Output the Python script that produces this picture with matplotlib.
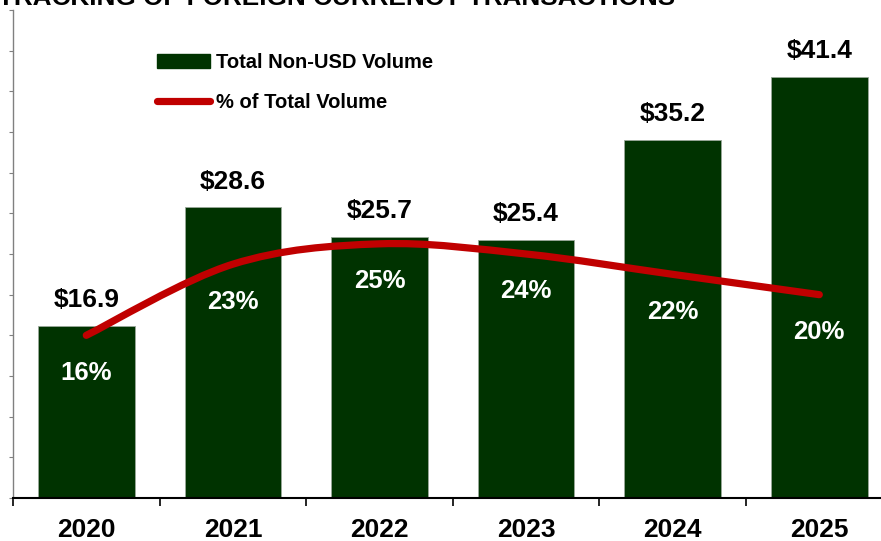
import numpy as np
import matplotlib
matplotlib.use("Agg")
import matplotlib.pyplot as plt
from matplotlib.path import Path
from matplotlib.patches import PathPatch, Patch
from matplotlib.lines import Line2D

years = ["2020", "2021", "2022", "2023", "2024", "2025"]
volume = [16.9, 28.6, 25.7, 25.4, 35.2, 41.4]
pct = [16, 23, 25, 24, 22, 20]
title = "TRACKING OF FOREIGN CURRENCY TRANSACTIONS"

GREEN = "#003300"
RED = "#C00000"
plt.rcParams['font.family'] = ['Liberation Sans', 'DejaVu Sans']

fig = plt.figure(figsize=(8.81, 5.41), dpi=100)
ax = fig.add_axes([13/881, 43/541, 879.6/881, 488/541])

x = np.arange(len(years))
ax.bar(x, volume, width=0.66, color=GREEN, edgecolor="#9aa89a", linewidth=0.6, zorder=2)
ax.set_xlim(-0.5, 5.5)
ax.set_ylim(0, 48)

# smoothed line (Bezier through data points)
pts = np.column_stack([x, pct]).astype(float)
verts = [tuple(pts[0])]
codes = [Path.MOVETO]
n = len(pts)
for i in range(n - 1):
    p0 = pts[i - 1] if i > 0 else pts[i]
    p1 = pts[i]
    p2 = pts[i + 1]
    p3 = pts[i + 2] if i + 2 < n else pts[i + 1]
    c1 = p1 + (p2 - p0) / 6.0
    c2 = p2 - (p3 - p1) / 6.0
    verts += [tuple(c1), tuple(c2), tuple(p2)]
    codes += [Path.CURVE4] * 3
path = Path(verts, codes)
ax.add_patch(PathPatch(path, facecolor="none", edgecolor=RED, lw=5.2,
                       capstyle="round", joinstyle="round", zorder=3))

for xi, v in zip(x, volume):
    ax.annotate(f"${v:.1f}", (xi, v), xytext=(0, 18.5), textcoords="offset points",
                ha="center", va="center", fontsize=19, fontweight="bold", color="black")
for xi, p in zip(x, pct):
    ax.annotate(f"{p}%", (xi, p), xytext=(0, -27), textcoords="offset points",
                ha="center", va="center", fontsize=18.5, fontweight="bold", color="white", zorder=4)

# axes styling
ax.spines["top"].set_visible(False)
ax.spines["right"].set_visible(False)
ax.spines["left"].set_color("#808080")
ax.spines["left"].set_linewidth(1.0)
ax.spines["bottom"].set_color("black")
ax.spines["bottom"].set_linewidth(1.5)
ax.set_yticks(np.arange(0, 49, 4))
ax.set_yticklabels([])
ax.tick_params(axis="y", length=3, width=0.8, color="#808080", direction="out")
ax.set_xticks(np.arange(-0.5, 6, 1.0))
ax.set_xticklabels([])
ax.tick_params(axis="x", length=6, width=1.2, color="black", direction="out")
for xi, yr in zip(x, years):
    ax.text(xi, -32/488, yr, transform=ax.get_xaxis_transform(), ha="center", va="center",
            fontsize=19, fontweight="bold")

handles = [Patch(facecolor=GREEN, edgecolor=GREEN),
           Line2D([0], [0], color=RED, lw=5.2, solid_capstyle="round")]
leg = fig.legend(handles, ["Total Non-USD Volume", "% of Total Volume"], loc="upper left",
                 bbox_to_anchor=(157/881, 1 - 53/541), frameon=False,
                 prop={"weight": "bold", "size": 14.5}, handlelength=2.65, handleheight=0.7,
                 handletextpad=0.3, labelspacing=1.05, borderpad=0, borderaxespad=0)

fig.text(-2/881, 1 - 5/541, title, ha="left", va="baseline", fontsize=18.8, fontweight="bold")

fig.savefig("out.png", dpi=100)
